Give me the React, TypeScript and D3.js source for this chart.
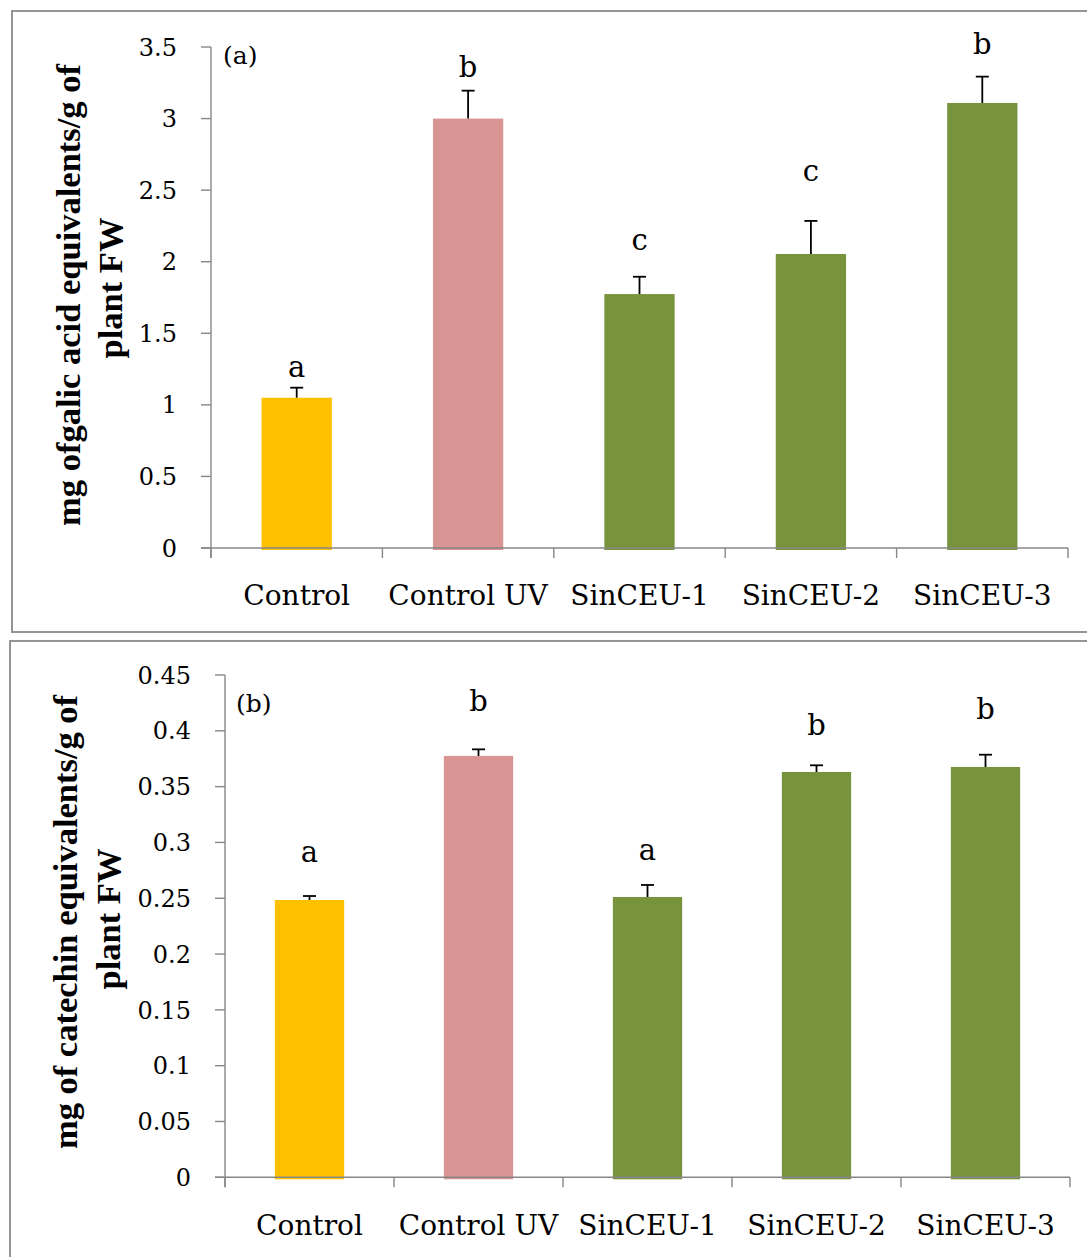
import React from 'react';
import * as d3 from 'd3';

const categories = ['Control', 'Control UV', 'SinCEU-1', 'SinCEU-2', 'SinCEU-3'];
const barColors = ['#FFC000', '#D99594', '#77933C', '#77933C', '#77933C'];

const gallicValues = [1.05, 3.0, 1.774, 2.054, 3.109];
const gallicErrors = [0.07, 0.195, 0.121, 0.231, 0.184];
const gallicLetters = ['a', 'b', 'c', 'c', 'b'];
const gallicLetterPos = [1.195, 3.293, 2.082, 2.566, 3.451];
const gallicTicks = [0, 0.5, 1, 1.5, 2, 2.5, 3, 3.5];

const catechinValues = [0.2484, 0.3775, 0.2511, 0.3631, 0.3676];
const catechinErrors = [0.0036, 0.0059, 0.0108, 0.006, 0.011];
const catechinLetters = ['a', 'b', 'a', 'b', 'b'];
const catechinLetterPos = [0.2825, 0.4178, 0.2843, 0.3963, 0.4103];
const catechinTicks = [0, 0.05, 0.1, 0.15, 0.2, 0.25, 0.3, 0.35, 0.4, 0.45];

const AXIS = '#878787';
const REG = "'DejaVu Serif', serif";
const BOLD = "'Liberation Serif', 'Times New Roman', serif";

type PanelProps = {
  frame: { x: number; y: number; w: number; h: number };
  x0: number; x1: number; yTop: number; yZero: number;
  ticks: number[]; values: number[]; errors: number[]; letters: string[]; letterPos: number[];
  title1: string; title2: string; t1x: number; t2x: number; t1c: number; t2c: number;
  label: string; labelX: number; labelY: number; catBaseline: number; tickLabelRight: number;
};

function Panel(p: PanelProps) {
  const maxV = p.ticks[p.ticks.length - 1];
  const y = d3.scaleLinear().domain([0, maxV]).range([p.yZero, p.yTop]);
  const xs = d3.scaleBand<string>().domain(categories).range([p.x0, p.x1]).paddingInner(0.59).paddingOuter(0.295);
  const step = xs.step();
  const boundaries = d3.range(categories.length + 1).map(i => p.x0 + i * step);
  return (
    <g>
      <rect x={p.frame.x} y={p.frame.y} width={p.frame.w} height={p.frame.h} fill="white" stroke="#8a8a8a" strokeWidth={1.8} />
      {/* bars */}
      {p.values.map((v, i) => (
        <rect key={'b' + i} x={xs(categories[i])} y={y(v)} width={xs.bandwidth()} height={y(0) - y(v) + 2} fill={barColors[i]} />
      ))}
      {/* axes */}
      <line x1={p.x0} x2={p.x0} y1={y(maxV)} y2={p.yZero + 10} stroke={AXIS} strokeWidth={1.4} />
      <line x1={p.x0 - 10} x2={p.x1} y1={p.yZero} y2={p.yZero} stroke={AXIS} strokeWidth={1.4} />
      {p.ticks.map((t, i) => (
        <g key={'t' + i}>
          <line x1={p.x0 - 10} x2={p.x0} y1={y(t)} y2={y(t)} stroke={AXIS} strokeWidth={1.4} />
          <text x={p.tickLabelRight} y={y(t)} dy="0.36em" textAnchor="end" fontFamily={REG} fontSize={24} fill="#000">{String(t)}</text>
        </g>
      ))}
      {boundaries.map((bx, i) => (
        <line key={'xb' + i} x1={bx} x2={bx} y1={p.yZero} y2={p.yZero + 10} stroke={AXIS} strokeWidth={1.4} />
      ))}
      {categories.map((c, i) => (
        <text key={'c' + i} x={(xs(c) as number) + xs.bandwidth() / 2} y={p.catBaseline} textAnchor="middle" fontFamily={REG} fontSize={28} fill="#000">{c}</text>
      ))}
      {/* error bars */}
      {p.values.map((v, i) => {
        const cx = (xs(categories[i]) as number) + xs.bandwidth() / 2;
        return (
          <g key={'e' + i} stroke="#000" strokeWidth={1.8}>
            <line x1={cx} x2={cx} y1={y(v)} y2={y(v + p.errors[i])} />
            <line x1={cx - 6.5} x2={cx + 6.5} y1={y(v + p.errors[i])} y2={y(v + p.errors[i])} />
          </g>
        );
      })}
      {p.letters.map((l, i) => (
        <text key={'l' + i} x={(xs(categories[i]) as number) + xs.bandwidth() / 2} y={y(p.letterPos[i])} textAnchor="middle" fontFamily={REG} fontSize={29} fill="#000">{l}</text>
      ))}
      <text x={p.labelX} y={p.labelY} fontFamily={REG} fontSize={25} fill="#000">{p.label}</text>
      <text transform={`translate(${p.t1x},${p.t1c}) rotate(-90)`} textAnchor="middle" fontFamily={BOLD} fontWeight="bold" fontSize={34.5} fill="#000">{p.title1}</text>
      <text transform={`translate(${p.t2x},${p.t2c}) rotate(-90)`} textAnchor="middle" fontFamily={BOLD} fontWeight="bold" fontSize={34.5} fill="#000">{p.title2}</text>
    </g>
  );
}

export default function App() {
  return (
    <svg width={1087} height={1257} style={{ position: 'absolute', left: 0, top: 0, background: 'white' }}>
      <rect x={0} y={0} width={1087} height={1257} fill="white" />
      <Panel
        frame={{ x: 12, y: 11, w: 1080, h: 621 }}
        x0={211} x1={1068} yTop={47} yZero={548}
        ticks={gallicTicks} values={gallicValues} errors={gallicErrors} letters={gallicLetters} letterPos={gallicLetterPos}
        title1="mg ofgalic acid equivalents/g of" title2="plant FW" t1x={80} t2x={122} t1c={295} t2c={288}
        label="(a)" labelX={223} labelY={64} catBaseline={605} tickLabelRight={177}
      />
      <Panel
        frame={{ x: 10, y: 641, w: 1082, h: 620 }}
        x0={225} x1={1070} yTop={675} yZero={1177.3}
        ticks={catechinTicks} values={catechinValues} errors={catechinErrors} letters={catechinLetters} letterPos={catechinLetterPos}
        title1="mg of catechin equivalents/g of" title2="plant FW" t1x={77} t2x={120} t1c={922} t2c={919}
        label="(b)" labelX={236} labelY={712} catBaseline={1235} tickLabelRight={191}
      />
    </svg>
  );
}
